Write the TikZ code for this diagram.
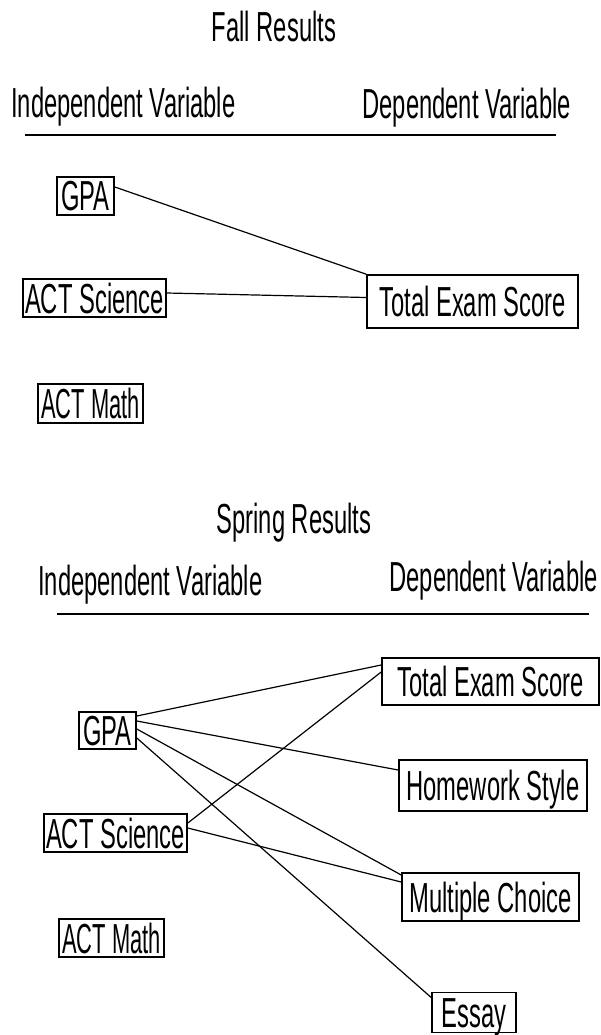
\documentclass[tikz,border=0pt]{standalone}
\usepackage{fontspec}
\usepackage{graphicx}
\setmainfont{Liberation Sans}[FakeStretch=0.566]
\begin{document}
\begin{tikzpicture}[x=1pt,y=-1pt,
  font=\fontsize{42}{50}\selectfont,
  box/.style={draw, line width=1.6pt, inner sep=0pt, text height=30pt, text depth=0pt, align=center},
  link/.style={line width=1.2pt},
  rulel/.style={line width=1.6pt},
  hdr/.style={inner sep=0pt}]
\useasboundingbox (0,0) rectangle (601,1035);
\fill[white] (0,0) rectangle (601,1035);

% ---------- Fall ----------
\node[hdr, anchor=base] (ftitle) at (274,42) {Fall Results};
\node[hdr, anchor=base west] (fiv) at (11,118) {Independent Variable};
\node[hdr, anchor=base east] (fdv) at (571,119) {Dependent Variable};
\coordinate (frl) at (25,135);
\coordinate (frr) at (556,135);
\draw[rulel] (frl) -- (frr);

\node[box, minimum width=57pt, minimum height=38pt] (fgpa) at (85.5,196) {GPA};
\node[box, minimum width=143pt, minimum height=38pt] (fsci) at (94.5,298) {ACT Science};
\node[box, minimum width=105pt, minimum height=39pt] (fmath) at (90.5,403.5) {\scalebox{0.92}[1]{ACT Math}};
\node[box, minimum width=211pt, minimum height=53pt] (ftes) at (472.5,301.5) {Total Exam Score};

\draw[link] ([yshift=9pt]fgpa.east) -- (ftes.north west);
\draw[link] ([yshift=5pt]fsci.east) -- ([yshift=4pt]ftes.west);

% ---------- Spring ----------
\node[hdr, anchor=base] (stitle) at (294,533) {Spring Results};
\node[hdr, anchor=base west] (siv) at (38,595) {Independent Variable};
\node[hdr, anchor=base east] (sdv) at (598,591) {Dependent Variable};
\coordinate (srl) at (57,614);
\coordinate (srr) at (589,614);
\draw[rulel] (srl) -- (srr);

\node[box, minimum width=57pt, minimum height=37pt] (sgpa) at (107.5,730.5) {GPA};
\node[box, minimum width=143pt, minimum height=38pt] (ssci) at (115.5,833) {ACT Science};
\node[box, minimum width=105pt, minimum height=38pt] (smath) at (111.5,938) {\scalebox{0.92}[1]{ACT Math}};

\node[box, minimum width=217pt, minimum height=47pt] (stes) at (490.5,681.5) {Total Exam Score};
\node[box, minimum width=188pt, minimum height=51pt] (shw) at (493,785.5) {Homework Style};
\node[box, minimum width=177pt, minimum height=48pt] (smc) at (490.5,897) {Multiple Choice};
\node[box, minimum width=84pt, minimum height=40pt] (sess) at (474,1012.5) {Essay};

\draw[link] ([yshift=14.5pt]sgpa.east) -- ([yshift=16.5pt]stes.west);
\draw[link] ([yshift=9.5pt]sgpa.east) -- ([yshift=15.5pt]shw.west);
\draw[link] ([yshift=1.5pt]sgpa.east) -- ([yshift=22pt]smc.west);
\draw[link] ([yshift=-7.5pt]sgpa.east) -- ([yshift=15pt]sess.west);
\draw[link] ([yshift=10pt]ssci.east) -- ([yshift=9.5pt]stes.west);
\draw[link] ([yshift=5pt]ssci.east) -- ([yshift=15pt]smc.west);
\end{tikzpicture}
\end{document}
